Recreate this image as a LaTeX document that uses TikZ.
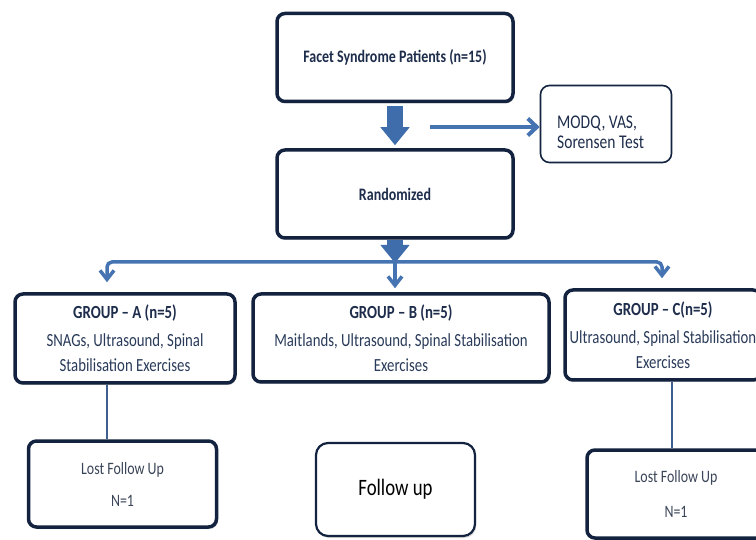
\documentclass[tikz,border=0pt]{standalone}
\usepackage{fontspec}
\setmainfont{Carlito}[FakeStretch=0.8]
\usetikzlibrary{arrows.meta,shadows,calc}
\definecolor{navy}{HTML}{13223F}
\definecolor{arrowblue}{HTML}{3F6DAC}
\definecolor{lineblue}{HTML}{4674B2}
\definecolor{dropblue}{HTML}{3E5E90}
\definecolor{txtnavy}{HTML}{1E2D4C}
\definecolor{txtbody}{HTML}{2A3B5A}
\definecolor{txtgray}{HTML}{3B4558}
\begin{document}
\begin{tikzpicture}[x=1pt,y=-1pt,
  boxshadow/.style={drop shadow={shadow xshift=1.2pt,shadow yshift=-2pt,opacity=0.25,fill=black!60}},
  bigbox/.style={draw=navy,line width=3.5pt,rounded corners=8pt,fill=white,boxshadow,inner sep=0pt,align=center},
  thinbox/.style={draw=navy,line width=1.6pt,rounded corners=9pt,fill=white,inner sep=0pt},
  fubox/.style={draw=navy,line width=2.2pt,rounded corners=12pt,fill=white,boxshadow,inner sep=0pt,align=center},
  headtxt/.style={font=\fontsize{17.5}{20}\selectfont\bfseries,text=txtnavy},
  grouptxt/.style={font=\fontsize{18.5}{25}\selectfont,text=txtbody},
  losttxt/.style={font=\fontsize{17.4}{32}\selectfont,text=txtgray},
  blockarrow/.style={draw=arrowblue,line width=16pt,-{Triangle[length=18pt,width=28pt]}},
  brancharrow/.style={draw=lineblue,line width=3.5pt,rounded corners=5pt,-{Straight Barb[length=9pt,width=14pt]}},
  modqarrow/.style={draw=lineblue,line width=4pt,-{Straight Barb[length=9pt,width=17pt]}},
  dropline/.style={draw=dropblue,line width=2pt}
]
\clip (0,0) rectangle (756,540);
\fill[white] (0,0) rectangle (756,540);

% main column
\node[bigbox,headtxt,minimum width=236pt,minimum height=88pt] (top) at (395,57.5) {Facet Syndrome Patients (n=15)};
\node[bigbox,headtxt,minimum width=236pt,minimum height=88pt] (rand) at (395,194) {Randomized};
\node[thinbox,minimum width=131pt,minimum height=77pt] (modq) at (606,124) {};
\node[anchor=west,inner sep=0pt,align=left,font=\fontsize{19.4}{20}\selectfont,text=txtnavy] (modqtxt) at (557,132) {MODQ, VAS,\\Sorensen Test};

% groups
\node[bigbox,grouptxt,minimum width=220pt,minimum height=89pt] (gA) at (125,338.5)
  {{\bfseries\color{txtnavy}GROUP – A (n=5)}\\[3pt]SNAGs, Ultrasound, Spinal\\Stabilisation Exercises};
\node[bigbox,grouptxt,minimum width=296pt,minimum height=88pt] (gB) at (401,338)
  {{\bfseries\color{txtnavy}GROUP – B (n=5)}\\[3pt]Maitlands, Ultrasound, Spinal Stabilisation\\Exercises};
\node[bigbox,grouptxt,minimum width=196pt,minimum height=90pt] (gC) at (663,335)
  {{\bfseries\color{txtnavy}GROUP – C(n=5)}\\[3pt]Ultrasound, Spinal Stabilisation\\Exercises};

% follow-up row
\node[bigbox,losttxt,minimum width=188pt,minimum height=86pt] (lostA) at (122.5,484) {Lost Follow Up\\N=1};
\node[fubox,minimum width=159pt,minimum height=93pt,font=\fontsize{23.5}{26}\selectfont,text=black] (fu) at (395.5,489.5) {Follow up};
\node[bigbox,losttxt,font=\fontsize{17.4}{35}\selectfont,minimum width=178pt,minimum height=88pt] (lostC) at (676,494) {Lost Follow Up\\N=1};

% helper coordinates
\coordinate (j) at (395,262);
\coordinate (xa) at (107,0);
\coordinate (xc) at (662,0);
\coordinate (xl) at (672,0);
\coordinate (ms) at (430,127);
\coordinate (rb) at (395,263);

% connectors
\draw[blockarrow,shorten <=3pt,shorten >=3pt] (top.south) -- (rand.north);
\draw[blockarrow] (rand.south) -- (rb);
\draw[brancharrow,shorten >=10pt] (j) -| (xa |- gA.north);
\draw[brancharrow,shorten >=10pt] (j) -| (xc |- gC.north);
\draw[brancharrow,shorten >=4pt] (j) -- (j |- gB.north);
\draw[modqarrow] (ms) -- (ms -| modq.west);
\draw[dropline] (xa |- gA.south) -- (xa |- lostA.north);
\draw[dropline] (xl |- gC.south) -- (xl |- lostC.north);
\end{tikzpicture}
\end{document}
